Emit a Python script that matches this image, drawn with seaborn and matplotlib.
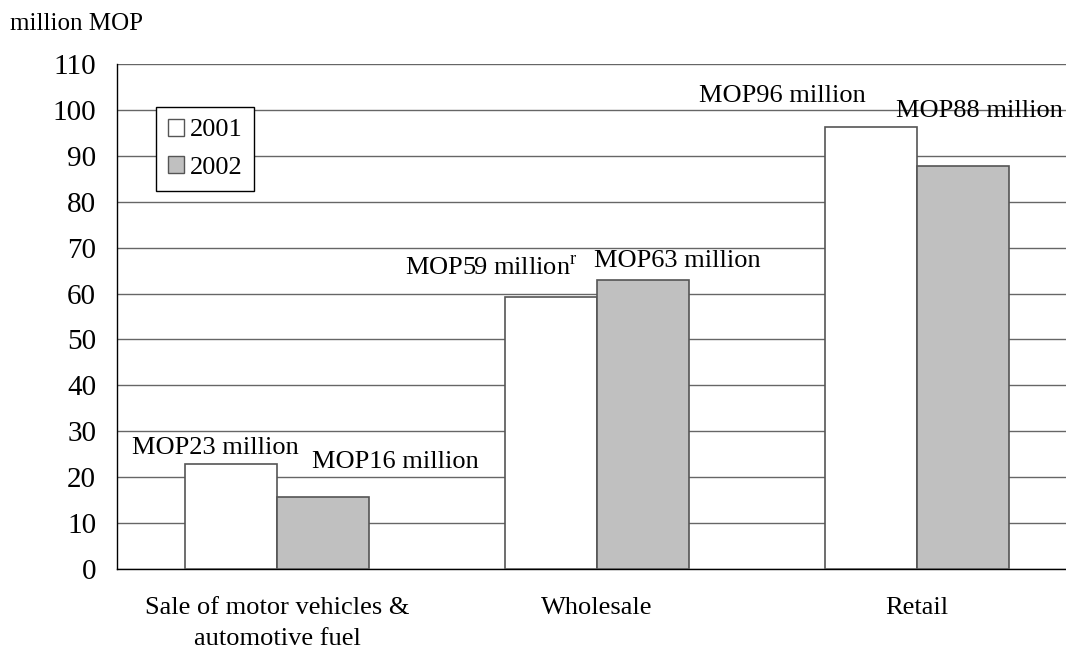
import pandas as pd
import matplotlib
matplotlib.use("Agg")
import matplotlib.pyplot as plt
import seaborn as sns
from matplotlib.patches import Patch

categories = ["Sale of motor vehicles &\nautomotive fuel", "Wholesale", "Retail"]
years = ["2001", "2002"]
values_2001 = [22.8, 59.2, 96.2]
values_2002 = [15.7, 63.0, 87.7]
labels_2001 = ["MOP23 million", "MOP59 million$^{\\mathrm{r}}$", "MOP96 million"]
labels_2002 = ["MOP16 million", "MOP63 million", "MOP88 million"]

df = pd.DataFrame({
    "category": categories * 2,
    "year": [years[0]] * 3 + [years[1]] * 3,
    "value": values_2001 + values_2002,
})

sns.set_style("white")
plt.rcParams["font.family"] = ["Liberation Serif", "DejaVu Serif"]
plt.rcParams["mathtext.fontset"] = "custom"
plt.rcParams["mathtext.rm"] = "Liberation Serif"
plt.rcParams["text.color"] = "black"
plt.rcParams["xtick.color"] = "black"
plt.rcParams["ytick.color"] = "black"
plt.rcParams["xtick.labelcolor"] = "black"
plt.rcParams["ytick.labelcolor"] = "black"

fig = plt.figure(figsize=(10.66, 6.51), dpi=100)
ax = fig.add_axes([0.1098, 0.126, 0.9006, 0.7757])

colors = {"2001": "#ffffff", "2002": "#c0c0c0"}
sns.barplot(data=df, x="category", y="value", hue="year", palette=colors,
            width=0.575, edgecolor="#555555", linewidth=1.2, ax=ax,
            legend=False, zorder=3)

ax.set_ylim(0, 110)
ax.set_xlim(-0.5, 2.5)
ax.set_yticks(range(0, 111, 10))
ax.yaxis.grid(True, color="#666666", linewidth=1)
ax.set_axisbelow(True)
for s in ["top", "right"]:
    ax.spines[s].set_visible(False)
for s in ["left", "bottom"]:
    ax.spines[s].set_color("black")
    ax.spines[s].set_linewidth(1)
ax.tick_params(axis="y", labelsize=21, length=0, pad=15, labelcolor="black")
ax.tick_params(axis="x", labelsize=19, length=0, pad=20, labelcolor="black")
for t in ax.get_xticklabels():
    t.set_linespacing(1.55)
ax.set_xlabel("")
ax.set_ylabel("")

# value labels, offset from bar centres (category units, data units)
offsets_2001 = [(-0.049, 2.3), (-0.186, 4.85), (-0.277, 5.5)]
offsets_2002 = [(0.227, 6.3), (0.108, 2.8), (0.052, 10.8)]
for i in range(3):
    ax.text(i - 0.144 + offsets_2001[i][0], values_2001[i] + offsets_2001[i][1],
            labels_2001[i], ha="center", va="baseline", fontsize=19, color="black")
    ax.text(i + 0.144 + offsets_2002[i][0], values_2002[i] + offsets_2002[i][1],
            labels_2002[i], ha="center", va="baseline", fontsize=19, color="black")

handles = [Patch(facecolor=colors[y], edgecolor="#555555", label=y) for y in years]
leg = ax.legend(handles=handles, loc="upper left", bbox_to_anchor=(0.041, 0.915),
                fontsize=19, frameon=True, fancybox=False, framealpha=1,
                handlelength=0.6, handleheight=0.6, handletextpad=0.2,
                borderpad=0.45, borderaxespad=0, labelspacing=0.55)
leg.get_frame().set_edgecolor("black")
leg.get_frame().set_linewidth(1)
for t in leg.get_texts():
    t.set_color("black")

fig.text(0.009, 0.963, "million MOP", fontsize=18, ha="left", va="center",
         color="black")

fig.savefig("out.png", dpi=100)
